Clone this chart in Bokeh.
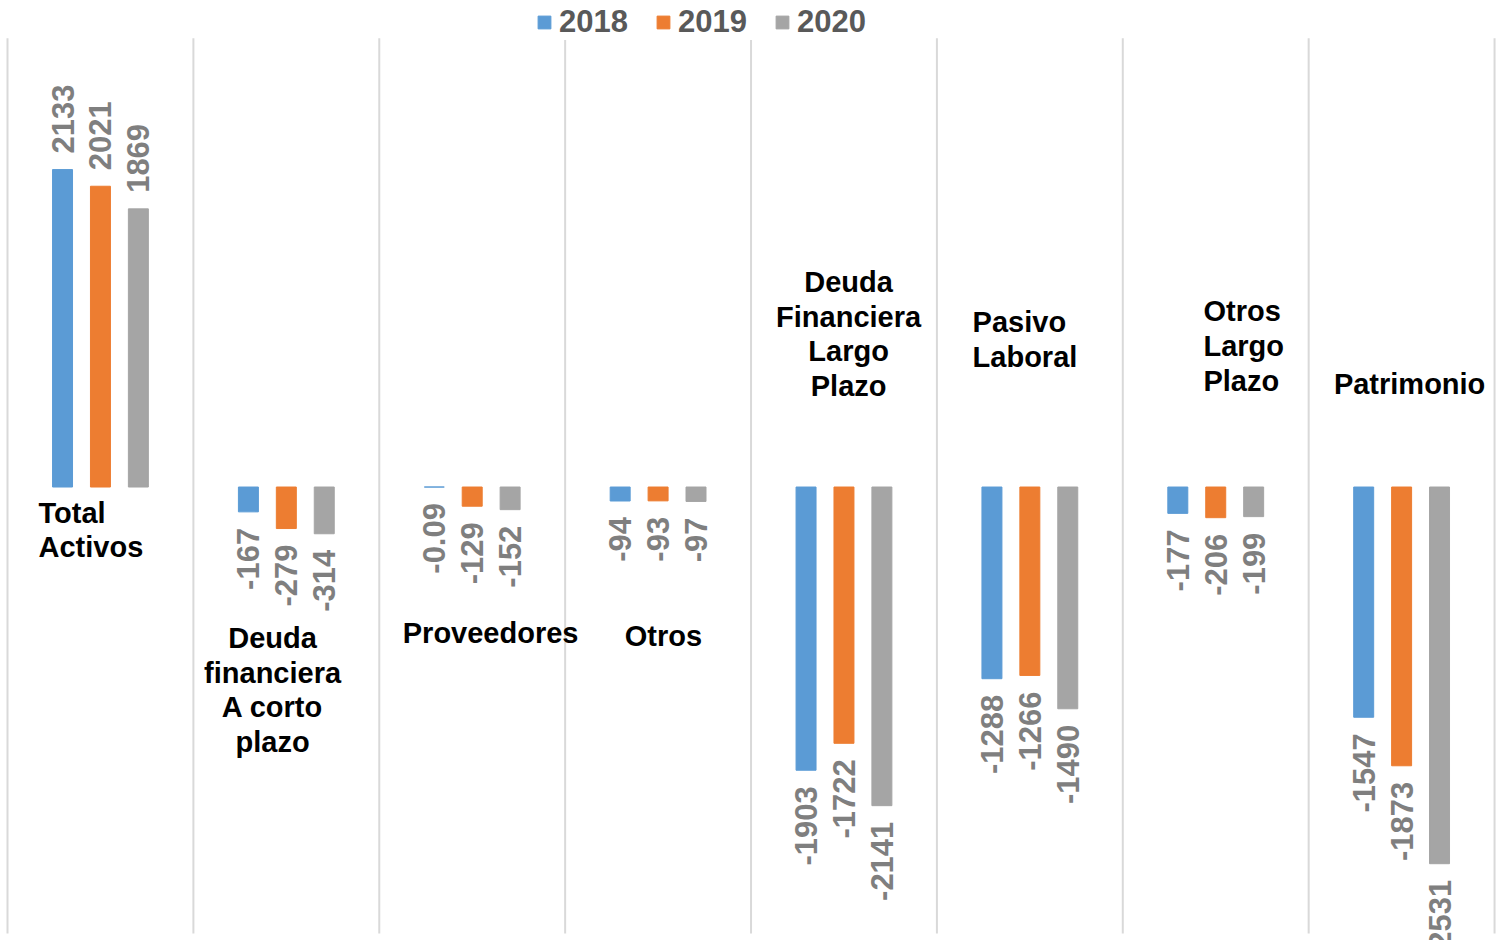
import math
from bokeh.plotting import figure
from bokeh.models import ColumnDataSource, Legend, LegendItem, Range1d
from bokeh.core.properties import value
from bokeh.embed import file_html
from bokeh.resources import INLINE

# ---- data ----
categories = ["Total Activos", "Deuda financiera A corto plazo", "Proveedores", "Otros",
              "Deuda Financiera Largo Plazo", "Pasivo Laboral", "Otros Largo Plazo", "Patrimonio"]
category_labels = ["Total\nActivos", "Deuda\nfinanciera\nA corto\nplazo", "Proveedores", "Otros",
                   "Deuda\nFinanciera\nLargo\nPlazo", "Pasivo\nLaboral", "Otros\nLargo\nPlazo", "Patrimonio"]
years = ["2018", "2019", "2020"]
v2018 = [2133, -167, -0.09, -94, -1903, -1288, -177, -1547]
v2019 = [2021, -279, -129, -93, -1722, -1266, -206, -1873]
v2020 = [1869, -314, -152, -97, -2141, -1490, -199, -2531]
series = [v2018, v2019, v2020]
colors = ["#5B9BD5", "#ED7D31", "#A5A5A5"]

# ---- layout (category-label placement, in data units) ----
lab_dx = [0.167, 0.426, 0.599, 0.529, 0.525, 0.192, 0.434, 0.543]
lab_y = [-289, -1364, -984, -998, 1028, 994, 947, 695]
lab_align = ["left", "center", "center", "center", "center", "left", "left", "center"]
offsets = [-0.204, 0.0, 0.204]
bar_w = 0.1075
y_lo, y_hi = -3000, 3000

n = len(categories)
p = figure(width=1500, height=940, output_backend="svg", toolbar_location=None,
           x_range=Range1d(-0.0377, 8.032), y_range=Range1d(-3047, 3269),
           min_border_left=0, min_border_right=0, min_border_bottom=0, min_border_top=0)
p.outline_line_color = None
p.xaxis.visible = False
p.yaxis.visible = False
p.xgrid.visible = False
p.ygrid.visible = False

# category separators
bx = list(range(n + 1))
p.segment(x0=bx, x1=bx, y0=[y_lo] * (n + 1), y1=[y_hi + 15] * (n + 1),
          line_color="#D9D9D9", line_width=2)

items = []
for k, (vals, col, yr) in enumerate(zip(series, colors, years)):
    xs = [i + 0.5 + offsets[k] for i in range(n)]
    src = ColumnDataSource(dict(
        x=xs, top=vals,
        txt=[f"{v:g}" for v in vals],
        align=["left" if v >= 0 else "right" for v in vals],
        yoff=[-16 if v >= 0 else 16 for v in vals],
    ))
    r = p.vbar(x="x", top="top", bottom=0, width=bar_w, source=src,
               fill_color=col, line_color=col)
    p.text(x="x", y="top", text="txt", source=src, angle=math.pi / 2,
           text_align="align", y_offset="yoff", text_baseline="middle",
           text_font=value("Liberation Sans"), text_font_style="bold",
           text_font_size="31px", text_color="#7F7F7F")
    items.append(LegendItem(label=yr, renderers=[r]))

lsrc = ColumnDataSource(dict(
    x=[i + d for i, d in enumerate(lab_dx)], y=lab_y, txt=category_labels, align=lab_align))
p.text(x="x", y="y", text="txt", source=lsrc, text_align="align", text_baseline="middle",
       text_font=value("Liberation Sans"), text_font_style="bold", text_font_size="29px",
       text_color="#000000", text_line_height=1.09)

legend = Legend(items=items, orientation="horizontal", location=(536, 900),
                label_text_font="Liberation Sans", label_text_font_style="bold",
                label_text_font_size="31px", label_text_color="#595959",
                glyph_width=16, glyph_height=16, label_standoff=7, spacing=27,
                label_height=26, padding=0, margin=0, border_line_color=None,
                background_fill_color="white", background_fill_alpha=1)
p.add_layout(legend)

open("out.html", "w").write(file_html(p, INLINE))
